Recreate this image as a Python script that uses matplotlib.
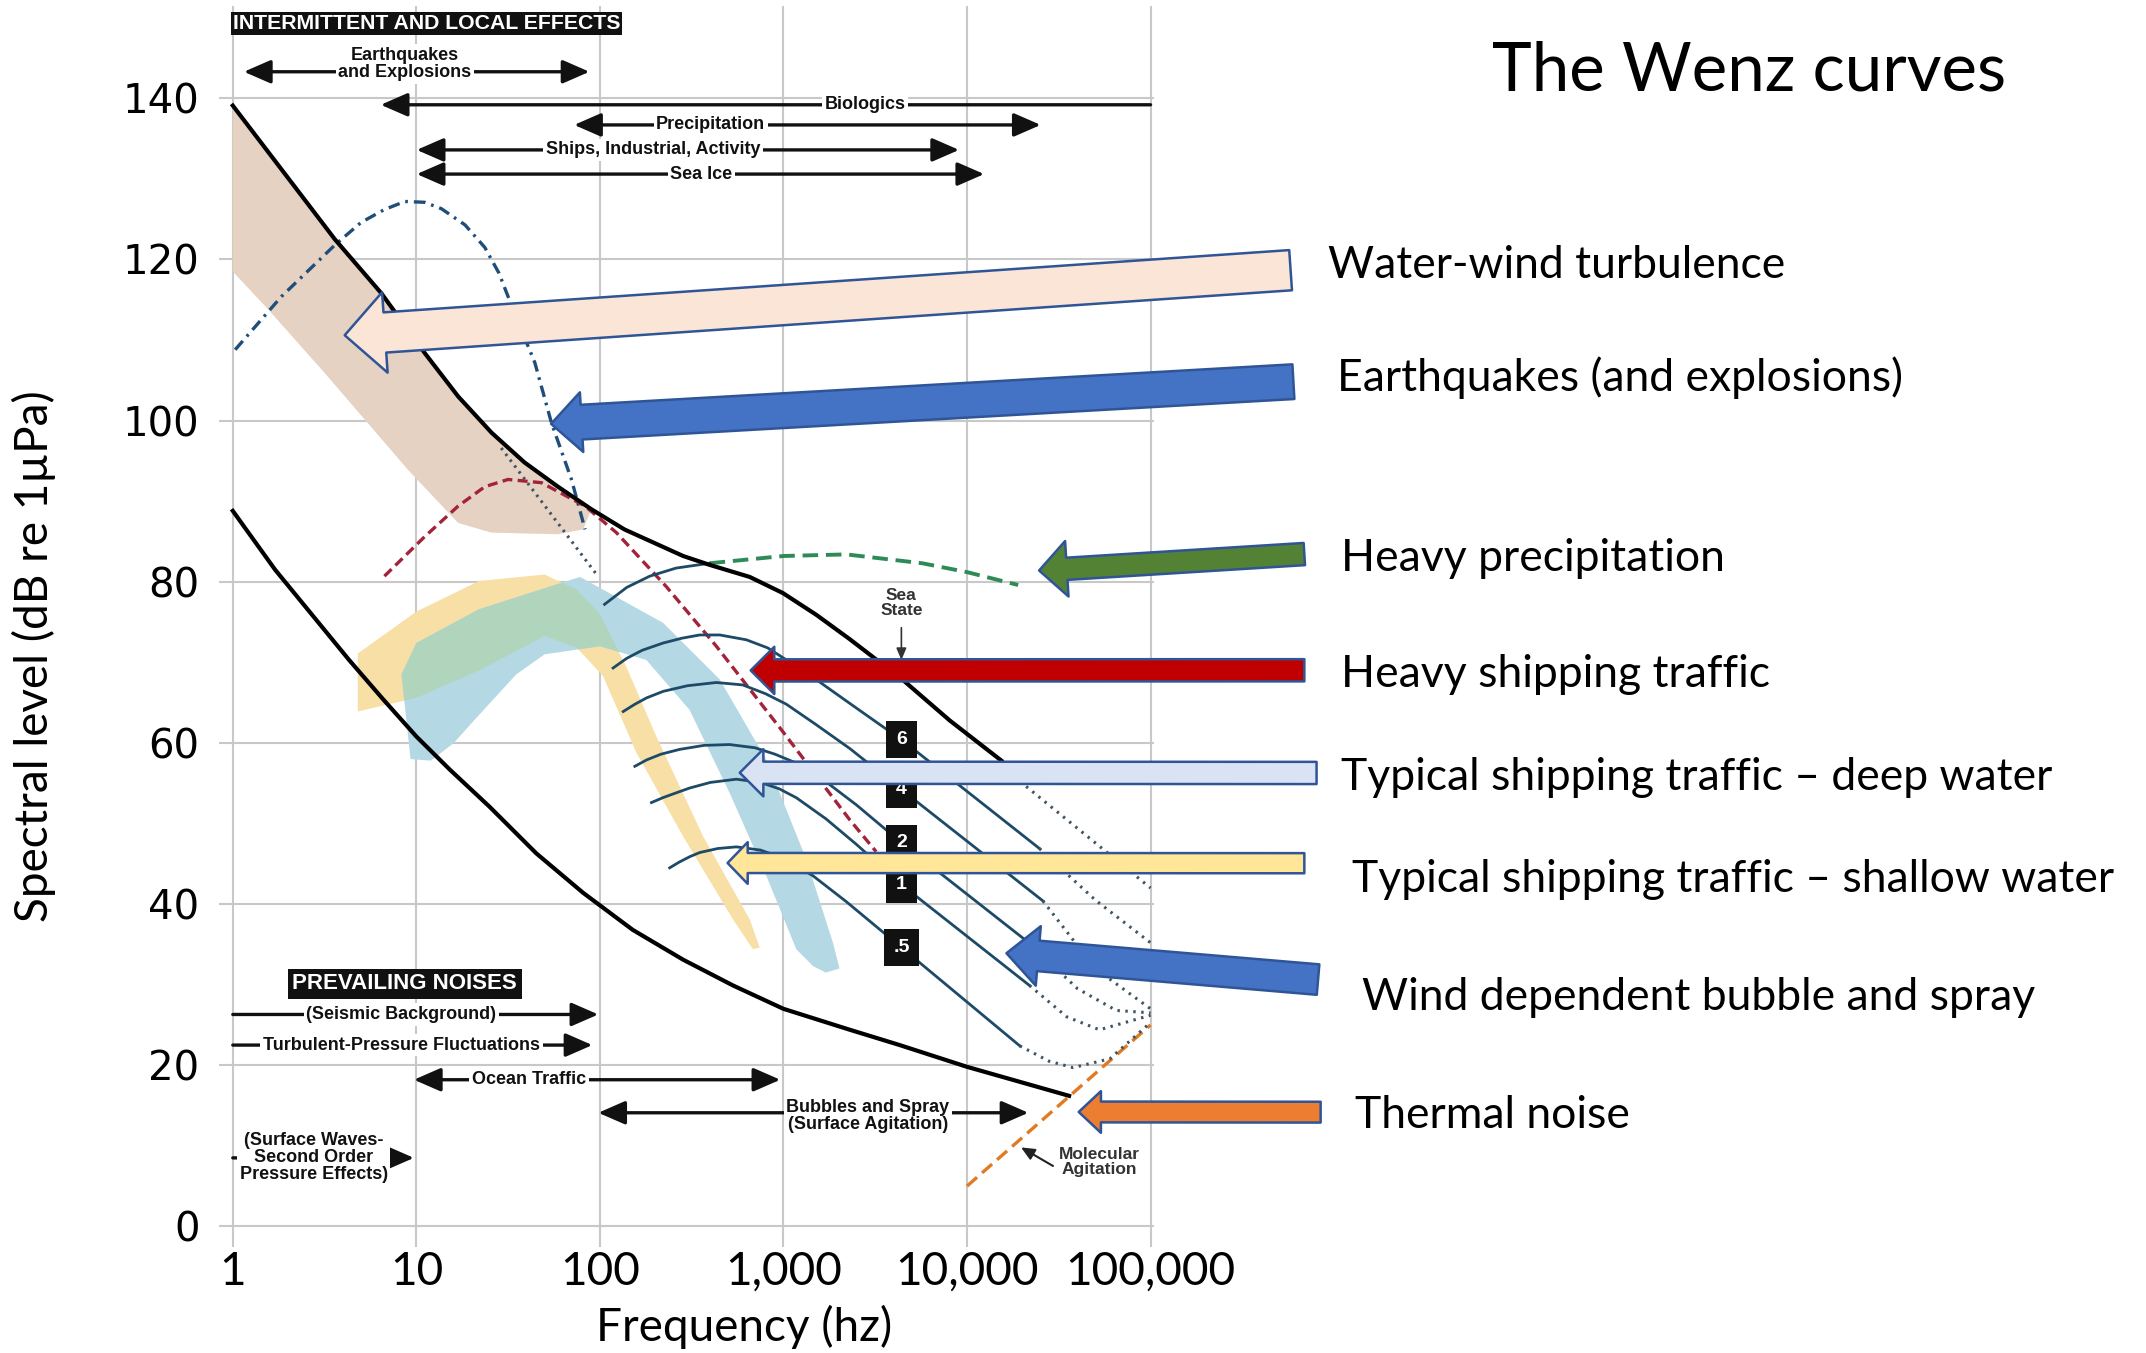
import matplotlib
matplotlib.use('Agg')
import matplotlib.pyplot as plt
from matplotlib.ticker import NullLocator

# ---------- levels (Hz, dB re 1 uPa) ----------
upper_f = [1, 3.6, 6.45, 11.1, 16.9, 25.7, 38.9, 59.1, 89.9, 136, 284, 396, 655, 993,
           1510, 2290, 4480, 8040, 15400]
upper_db = [139.1, 122.5, 115.8, 108.4, 103.0, 98.5, 94.8, 91.8, 89.0, 86.5, 83.2, 82.1,
            80.6, 78.6, 75.9, 72.9, 67.8, 62.8, 57.8]
upper_dot_f = [21000, 100000]
upper_dot_db = [54.6, 42.0]

lower_f = [1, 1.7, 4.3, 6.6, 10, 15.2, 25, 45, 81, 151, 284, 531, 1000, 2300, 4300,
           10000, 36000]
lower_db = [88.8, 81.5, 70.3, 65.4, 60.8, 56.7, 52.1, 46.3, 41.4, 36.8, 33.1, 29.9, 27.0,
            24.4, 22.5, 19.8, 16.2]

# water-wind turbulence band: top follows the upper limit, this is the bottom edge
ww_lo_f = [1, 1.56, 3.17, 9.0, 16.9, 25.6, 59, 81]
ww_lo_db = [118.5, 113.8, 105.9, 93.9, 87.3, 86.1, 85.9, 86.5]

quake_f = [1.03, 1.84, 3.6, 5.0, 6.7, 8.65, 11.1, 13.7, 18.4, 23.6, 28.2, 31.6, 37.3,
           44.2, 54.5, 70, 83]
quake_db = [108.8, 115.4, 121.8, 124.6, 126.2, 127.2, 127.1, 126.3, 124.3, 121.5, 118.3,
            115.4, 111.3, 107.2, 99.7, 92.7, 86.5]

turb_f = [29, 96]
turb_db = [96.6, 80.9]

ship_f = [6.7, 11.1, 16.9, 23.6, 31.6, 48, 83, 123, 230, 431, 1000, 2290, 3200]
ship_db = [80.7, 85.6, 89.4, 91.8, 92.7, 92.3, 89.4, 86.1, 79.4, 72.0, 61.3, 50.5, 46.5]

rain_f = [396, 1000, 2200, 5700, 10000, 19000]
rain_db = [82.3, 83.2, 83.4, 82.3, 81.2, 79.6]

thermal_f = [10000, 100000]
thermal_db = [5.0, 25.0]

# traffic bands (shallow = yellow, deep = blue; green where they overlap)
shallow_up_f = [4.8, 10, 22, 50, 75, 100, 139, 203, 365, 655, 742]
shallow_up_db = [71.1, 76.3, 80.1, 80.9, 79.0, 76.0, 69.5, 60.8, 48.4, 38.1, 34.6]
shallow_lo_f = [4.8, 10, 22, 50, 75, 104, 158, 284, 531, 682]
shallow_lo_db = [63.9, 65.6, 69.0, 73.3, 71.8, 68.3, 58.8, 48.4, 38.1, 34.4]
deep_up_f = [8.3, 10, 22, 50, 78, 221, 449, 807, 1335, 1860, 2020]
deep_up_db = [68.5, 72.4, 76.6, 79.2, 80.6, 74.9, 67.9, 57.9, 45.5, 35.2, 32.0]
deep_lo_f = [8.3, 9.3, 12, 16, 22, 35, 50, 100, 179, 308, 509, 807, 1175, 1450, 1700]
deep_lo_db = [68.5, 58.0, 57.8, 60.0, 63.5, 68.5, 71.0, 72.0, 70.3, 64.1, 53.8, 43.5,
              34.4, 32.3, 31.5]

# sea-state curves
arc_top_f = [106, 140, 187, 260, 396]
arc_top_db = [77.2, 79.3, 80.7, 81.7, 82.3]
ss6_f = [118, 140, 170, 221, 280, 350, 450, 628, 820, 1038, 1500, 2300, 3340, 4400, 24800]
ss6_db = [69.3, 70.5, 71.5, 72.4, 73.0, 73.4, 73.4, 72.8, 71.8, 70.3, 67.9, 64.9, 62.3,
          60.4, 46.9]
ss4_f = [134, 155, 180, 221, 300, 431, 600, 800, 1038, 1500, 2300, 4400, 25900]
ss4_db = [63.9, 64.8, 65.6, 66.4, 67.1, 67.5, 67.2, 66.1, 64.8, 62.3, 59.3, 54.2, 40.4]
ss2_f = [155, 180, 215, 272, 370, 509, 700, 900, 1175, 1700, 2500, 4400, 22000]
ss2_db = [57.1, 57.9, 58.6, 59.2, 59.7, 59.8, 59.4, 58.6, 57.5, 55.2, 52.3, 47.6, 35.1]
ss1_f = [191, 220, 260, 308, 400, 554, 750, 950, 1175, 1700, 2500, 4400, 21900]
ss1_db = [52.6, 53.2, 53.8, 54.4, 55.1, 55.5, 55.1, 54.3, 53.2, 50.6, 47.4, 42.4, 29.9]
ss05_f = [240, 270, 310, 350, 440, 554, 750, 1000, 1450, 2200, 4400, 19400]
ss05_db = [44.5, 45.2, 45.9, 46.4, 46.9, 47.1, 46.7, 45.7, 43.5, 40.3, 34.6, 22.4]

ss6_dot_f, ss6_dot_db = [24800, 50000, 100000], [46.9, 40.5, 35.2]
ss4_dot_f, ss4_dot_db = [25900, 50000, 100000], [40.4, 32.0, 27.0]
ss2_dot_f, ss2_dot_db = [22000, 40000, 65000, 100000], [35.1, 29.5, 26.8, 26.5]
ss1_dot_f, ss1_dot_db = [21900, 35000, 52700, 100000], [29.9, 26.0, 24.4, 26.2]
ss05_dot_f, ss05_dot_db = [19400, 28000, 37800, 60000, 100000], [22.4, 20.5, 19.7, 20.8, 25.3]

ss_names = ['6', '4', '2', '1', '.5']
ss_label_f = 4400
ss_label_db = [60.4, 54.2, 47.6, 42.4, 34.6]

xticks = [1, 10, 100, 1000, 10000, 100000]
xtick_labels = ['1', '10', '100', '1,000', '10,000', '100,000']
yticks = [0, 20, 40, 60, 80, 100, 120, 140]

# range arrows: (text, f_start, f_end, level, text_f, text_level, style)
top_ranges = [
    ('Earthquakes\nand Explosions', 1.15, 87.7, 143.3, 8.65, 144.25, '<|-|>'),
    ('Biologics', 100000, 6.4, 139.2, 2790, 139.2, '-|>'),
    ('Precipitation', 72.4, 25200, 136.7, 402, 136.7, '<|-|>'),
    ('Ships, Industrial, Activity', 10.05, 9050, 133.6, 195, 133.6, '<|-|>'),
    ('Sea Ice', 10.05, 12400, 130.6, 357, 130.6, '<|-|>'),
]
bottom_ranges = [
    ('(Seismic Background)', 1, 98, 26.3, 8.3, 26.3, '-|>'),
    ('Turbulent-Pressure Fluctuations', 1, 91, 22.5, 8.3, 22.5, '-|>'),
    ('Ocean Traffic', 9.7, 961, 18.2, 41, 18.2, '<|-|>'),
    ('Bubbles and Spray\n(Surface Agitation)', 98, 21600, 14.1, 2890, 13.7, '<|-|>'),
    ('(Surface Waves-\nSecond Order\nPressure Effects)', 1, 9.7, 8.5, 2.76, 8.5, '-|>'),
]

# block-arrow call-outs: label, tip (Hz, dB), tail/label in figure fraction
callouts = [
    ('Water-wind turbulence', 4.07, 110.6, (0.6014, 0.8003), (0.6186, 0.8038),
     '#FBE5D6', 2.9, 5.8, 2.9),
    ('Earthquakes (and explosions)', 54.2, 99.6, (0.6027, 0.7179), (0.6231, 0.7209),
     '#4472C4', 2.5, 4.3, 2.2),
    ('Heavy precipitation', 24700, 81.4, (0.6078, 0.5905), (0.6250, 0.5875),
     '#548235', 1.6, 4.0, 2.0),
    ('Heavy shipping traffic', 663, 69.0, (0.6078, 0.5046), (0.6250, 0.5015),
     '#C00000', 1.6, 3.4, 1.7),
    ('Typical shipping traffic \u2013 deep water', 578, 56.3, (0.6135, 0.4287),
     (0.6250, 0.4257), '#DAE3F3', 1.6, 3.4, 1.7),
    ('Typical shipping traffic \u2013 shallow water', 496, 45.1, (0.6078, 0.3620),
     (0.6301, 0.3498), '#FFE699', 1.45, 3.0, 1.45),
    ('Wind dependent bubble and spray', 16400, 33.9, (0.6142, 0.2760), (0.6346, 0.2629),
     '#4472C4', 2.2, 4.3, 2.3),
    ('Thermal noise', 40600, 14.2, (0.6154, 0.1780), (0.6314, 0.1759),
     '#ED7D31', 1.5, 3.0, 1.6),
]

LABEL_FONT = ['Lato', 'DejaVu Sans']
NOTE_FONT = ['Liberation Sans', 'DejaVu Sans']
SEA = '#1D4A66'
DOT = '#3F5563'

fig = plt.figure(figsize=(21.46, 13.53), dpi=100)
ax = fig.add_axes([0.1020, 0.0787, 0.4356, 0.9171])
ax.set_xscale('log')
ax.set_xlim(0.84, 1.04e5)
ax.set_ylim(-2.5, 151.5)
for sp in ax.spines.values():
    sp.set_visible(False)
ax.set_xticks(xticks)
ax.set_xticklabels(xtick_labels, fontsize=33, family=LABEL_FONT)
ax.xaxis.set_minor_locator(NullLocator())
ax.set_yticks(yticks)
ax.set_yticklabels([str(v) for v in yticks], fontsize=29, family=['DejaVu Sans'])
ax.tick_params(axis='x', length=0, pad=3)
ax.tick_params(axis='y', length=0, pad=14)
ax.grid(True, color='#c8c8c8', lw=1.5)
ax.set_axisbelow(True)

# shaded regions
n_top = 9
ax.fill(upper_f[:n_top] + ww_lo_f[::-1], upper_db[:n_top] + ww_lo_db[::-1],
        color='#E6D2C3', lw=0, zorder=1)
sh_x = shallow_up_f + shallow_lo_f[::-1]
sh_y = shallow_up_db + shallow_lo_db[::-1]
ax.fill(sh_x, sh_y, color='#F8DFA6', lw=0, zorder=1)
deep = ax.fill(deep_up_f + deep_lo_f[::-1], deep_up_db + deep_lo_db[::-1],
               color='#B4D8E4', lw=0, zorder=1.1)[0]
overlap = ax.fill(sh_x, sh_y, color='#B0D5BC', lw=0, zorder=1.2)[0]
overlap.set_clip_path(deep)

# limits of prevailing noise
ax.plot(upper_f, upper_db, color='black', lw=3, zorder=4)
ax.plot(upper_dot_f, upper_dot_db, color=DOT, lw=2.2, ls=(0, (0.8, 1.8)), zorder=3)
ax.plot(lower_f, lower_db, color='black', lw=3, zorder=4)

ax.plot(quake_f, quake_db, color='#1F4E79', lw=2.4, ls=(0, (3.5, 1.8, 0.8, 1.8)), zorder=3)
ax.plot(turb_f, turb_db, color=DOT, lw=2.2, ls=(0, (0.8, 1.6)), zorder=3)
ax.plot(ship_f, ship_db, color='#A3233A', lw=2.4, ls=(0, (3, 1.6)), zorder=3)
ax.plot(rain_f, rain_db, color='#2E8B57', lw=2.8, ls=(0, (4, 2)), zorder=3)
ax.plot(thermal_f, thermal_db, color='#E07B22', lw=2.4, ls=(0, (4, 2)), zorder=3)

# sea states
ax.plot(arc_top_f, arc_top_db, color=SEA, lw=2, zorder=3)
for f, d in [(ss6_f, ss6_db), (ss4_f, ss4_db), (ss2_f, ss2_db), (ss1_f, ss1_db),
             (ss05_f, ss05_db)]:
    ax.plot(f, d, color=SEA, lw=2, zorder=3)
for f, d in [(ss6_dot_f, ss6_dot_db), (ss4_dot_f, ss4_dot_db), (ss2_dot_f, ss2_dot_db),
             (ss1_dot_f, ss1_dot_db), (ss05_dot_f, ss05_dot_db)]:
    ax.plot(f, d, color=DOT, lw=2.2, ls=(0, (0.8, 1.8)), zorder=3)
for name, lev in zip(ss_names, ss_label_db):
    ax.text(ss_label_f, lev, name, color='white', fontsize=14, fontweight='bold',
            family=NOTE_FONT, ha='center', va='center', zorder=6,
            bbox=dict(boxstyle='square,pad=0.5', fc='#111111', ec='none'))

ax.text(4390, 77.4, 'Sea\nState', fontsize=12.5, fontweight='bold', color='#333333',
        family=NOTE_FONT, ha='center', va='center', linespacing=1.0, zorder=6)
ax.annotate('', xy=(4390, 70.3), xytext=(4390, 74.3),
            arrowprops=dict(arrowstyle='-|>,head_length=0.35,head_width=0.15',
                            color='#333333', lw=1.2, mutation_scale=20,
                            shrinkA=0, shrinkB=0), zorder=6)
ax.text(52700, 8.0, 'Molecular\nAgitation', fontsize=12.5, fontweight='bold',
        color='#333333', family=NOTE_FONT, ha='center', va='center',
        linespacing=1.05, zorder=6)
ax.annotate('', xy=(19700, 9.8), xytext=(29400, 7.5),
            arrowprops=dict(arrowstyle='-|>,head_length=0.4,head_width=0.18',
                            color='#222222', lw=1.5, mutation_scale=20,
                            shrinkA=0, shrinkB=0), zorder=6)

# range arrows with labels
for text, f0, f1, lev, tf, tl, style in top_ranges + bottom_ranges:
    ax.annotate('', xy=(f1, lev), xytext=(f0, lev),
                arrowprops=dict(arrowstyle=f'{style},head_length=0.55,head_width=0.24',
                                color='#111111', lw=2.4, mutation_scale=30,
                                shrinkA=0, shrinkB=0), zorder=5)
    ax.text(tf, tl, text, fontsize=13, fontweight='bold', color='#111111',
            family=NOTE_FONT, ha='center', va='center', linespacing=1.0, zorder=6,
            bbox=dict(boxstyle='square,pad=0.15', fc='white', ec='none'))

ax.text(1.0, 149.3, 'INTERMITTENT AND LOCAL EFFECTS', fontsize=15.3, fontweight='bold',
        color='white', family=NOTE_FONT, ha='left', va='center', zorder=6,
        bbox=dict(boxstyle='square,pad=0.1', fc='#111111', ec='none'))
ax.text(8.65, 30.1, 'PREVAILING NOISES', fontsize=16, fontweight='bold',
        color='white', family=NOTE_FONT, ha='center', va='center', zorder=6,
        bbox=dict(boxstyle='square,pad=0.2', fc='#111111', ec='none'))

# call-out block arrows and their labels
for label, tf, tdb, tail, lpos, fc, tw, hw, hl in callouts:
    ax.annotate('', xy=(tf, tdb), xycoords='data', xytext=tail,
                textcoords='figure fraction', annotation_clip=False,
                arrowprops=dict(arrowstyle=f'simple,head_length={hl},head_width={hw},'
                                           f'tail_width={tw}',
                                fc=fc, ec='#2F5597', lw=1.8, mutation_scale=10,
                                shrinkA=0, shrinkB=0), zorder=10)
    fig.text(lpos[0], lpos[1], label, fontsize=32, family=LABEL_FONT,
             ha='left', va='center', color='black')

fig.text(0.6952, 0.9474, 'The Wenz curves', fontsize=48.5, family=LABEL_FONT,
         ha='left', va='center', color='black')
fig.text(0.3469, 0.0192, 'Frequency (hz)', fontsize=33, family=LABEL_FONT,
         ha='center', va='center')
fig.text(0.0159, 0.5147, 'Spectral level (dB re 1\u00b5Pa)', fontsize=33,
         family=LABEL_FONT, rotation=90, ha='center', va='center')

fig.savefig('out.png', dpi=100, facecolor='white')
